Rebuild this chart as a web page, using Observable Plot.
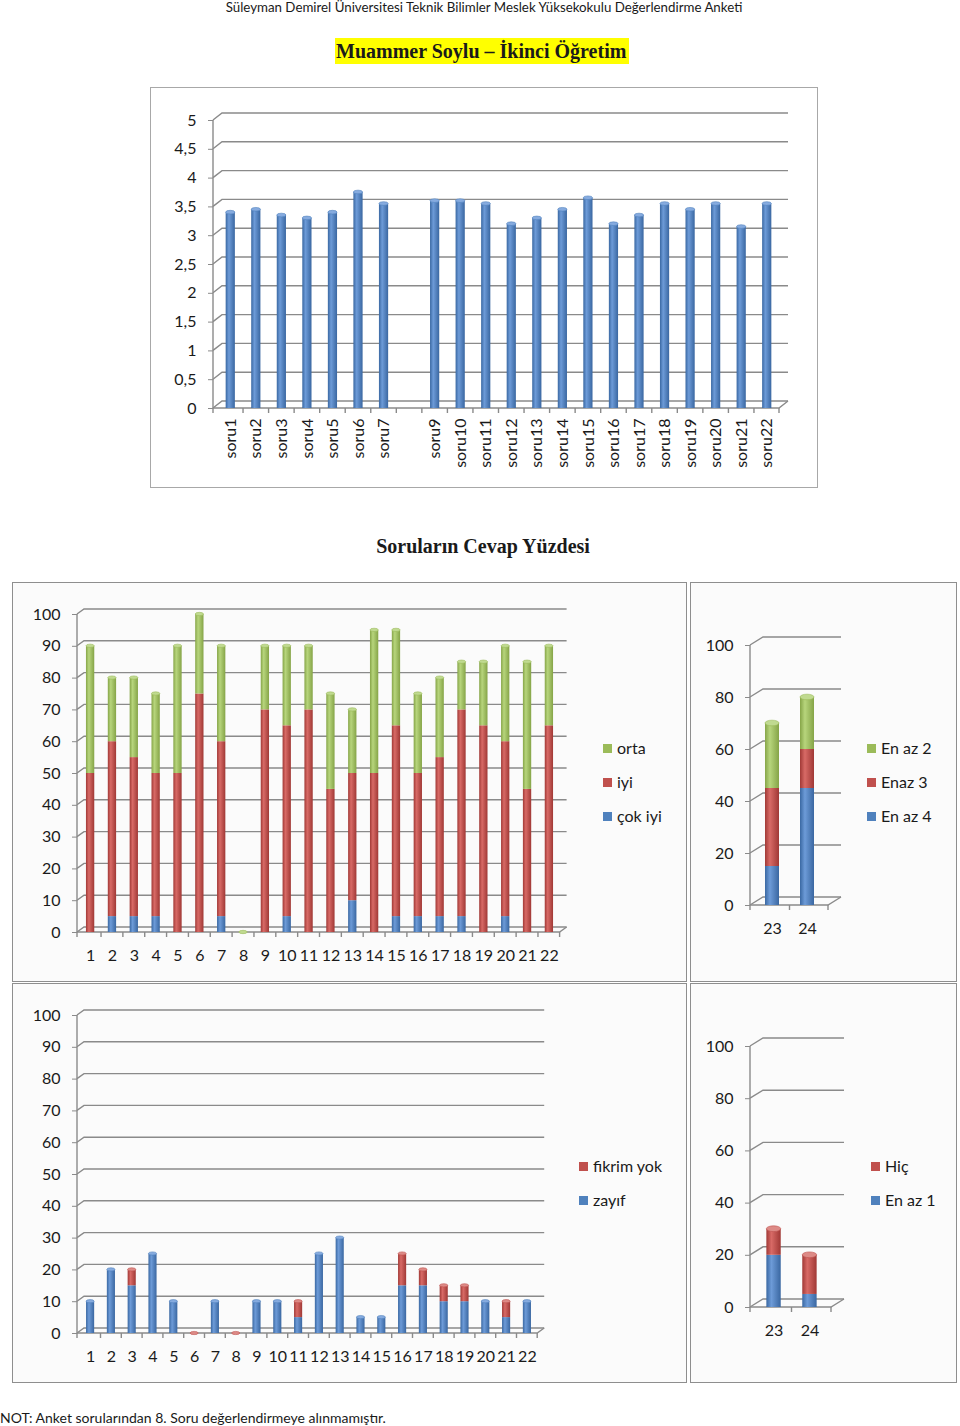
<!DOCTYPE html>
<html>
<head>
<meta charset="utf-8">
<script src="https://cdn.jsdelivr.net/npm/d3@7"></script>
<script src="https://cdn.jsdelivr.net/npm/@observablehq/plot@0.6"></script>
<style>
  html, body { margin: 0; padding: 0; }
  body { width: 960px; height: 1426px; position: relative; background: #fff; overflow: hidden;
         font-family: Lato, "Open Sans", sans-serif; color: #1a1a1a; }
  .abs { position: absolute; }
  .box { position: absolute; box-sizing: border-box; border: 1.5px solid #8e8e8e; background: #fbfbfb; }
  .hdr { top: 0; left: 0; width: 968px; text-align: center; font-size: 13.3px; line-height: 15px; }
  .ttl { font-family: "Liberation Serif", "Times New Roman", serif; font-weight: bold; font-size: 20px; }
  .leg { position: absolute; font-size: 16px; line-height: 18px; white-space: nowrap; }
  .leg span.sw { display: inline-block; width: 9px; height: 9px; margin-right: 5px; vertical-align: 1px; }
  .foot { left: 0; top: 1409px; font-size: 14px; }
</style>
</head>
<body>
<svg width="0" height="0" style="position:absolute">
  <defs>
    <linearGradient id="gBlue" x1="0" x2="1" y1="0" y2="0">
      <stop offset="0" stop-color="#3a68a2"/><stop offset="0.35" stop-color="#6d9bd8"/><stop offset="1" stop-color="#3a67a1"/>
    </linearGradient>
    <linearGradient id="gRed" x1="0" x2="1" y1="0" y2="0">
      <stop offset="0" stop-color="#a13936"/><stop offset="0.35" stop-color="#d86a66"/><stop offset="1" stop-color="#a03835"/>
    </linearGradient>
    <linearGradient id="gGreen" x1="0" x2="1" y1="0" y2="0">
      <stop offset="0" stop-color="#86a548"/><stop offset="0.35" stop-color="#b7d57c"/><stop offset="1" stop-color="#85a447"/>
    </linearGradient>
  </defs>
</svg>

<div class="abs hdr">Süleyman Demirel Üniversitesi Teknik Bilimler Meslek Yüksekokulu Değerlendirme Anketi</div>
<div class="abs ttl" style="left:335px; top:38px; background:#ffff00; padding:0 3px 0 1px; line-height:26px;">Muammer Soylu – İkinci Öğretim</div>
<div class="box" style="left:150px; top:87px; width:668px; height:401px; background:#fff; border-color:#a8a8a8;"></div>
<div class="abs ttl" style="left:0; width:966px; text-align:center; top:533px; line-height:26px;">Soruların Cevap Yüzdesi</div>

<div class="box" style="left:12px; top:582px; width:675px; height:400px;"></div>
<div class="box" style="left:690px; top:582px; width:267px; height:400px;"></div>
<div class="box" style="left:12px; top:983px; width:675px; height:400px;"></div>
<div class="box" style="left:690px; top:983px; width:267px; height:400px;"></div>

<div class="abs foot">NOT: Anket sorularından 8. Soru değerlendirmeye alınmamıştır.</div>

<script>
// ---------------- DATA ----------------
const meanQuestions = ["soru1","soru2","soru3","soru4","soru5","soru6","soru7","soru8","soru9","soru10","soru11",
  "soru12","soru13","soru14","soru15","soru16","soru17","soru18","soru19","soru20","soru21","soru22"];
const excludedQuestion = "soru8";
const meanScores = [3.4,3.45,3.35,3.3,3.4,3.75,3.55,null,3.6,3.6,3.55,3.2,3.3,3.45,3.65,3.2,3.35,3.55,3.45,3.55,3.15,3.55];
const meanTicks = [0,0.5,1,1.5,2,2.5,3,3.5,4,4.5,5];

const questions = ["1","2","3","4","5","6","7","8","9","10","11","12","13","14","15","16","17","18","19","20","21","22"];
const cokIyi     = [0,5,5,5,0,0,5,0,0,5,0,0,10,0,5,5,5,5,0,5,0,0];
const iyi        = [50,55,50,45,50,75,55,0,70,60,70,45,40,50,60,45,50,65,65,55,45,65];
const orta       = [40,20,25,25,40,25,30,0,20,25,20,30,20,45,30,25,25,15,20,30,40,25];
const zayif      = [10,20,15,25,10,0,10,0,10,10,5,25,30,5,5,15,15,10,10,10,5,10];
const fikrimYok  = [0,0,5,0,0,0,0,0,0,0,5,0,0,0,0,10,5,5,5,0,5,0];

const extraQuestions = ["23","24"];
const enAz4 = [15,45];
const enaz3 = [30,15];
const enAz2 = [25,20];
const enAz1 = [20,5];
const hic   = [10,15];

const pctTicks10 = [0,10,20,30,40,50,60,70,80,90,100];
const pctTicks20 = [0,20,40,60,80,100];

// ---------------- STYLE ----------------
const FONT = "Lato, 'Open Sans', sans-serif";
const FILL = {blue: "url(#gBlue)", red: "url(#gRed)", green: "url(#gGreen)"};
const CAP  = {blue: "#86abdf", red: "#dd8a86", green: "#c0da90"};
const SOLID = {blue: "#4f81bd", red: "#c0504d", green: "#9bbb59"};

// back wall / floor / axis lines of a pseudo-3D chart
function wall3d(ticks, dx, dy) {
  return (index, scales, values, dims) => {
    const x = scales.x, y = scales.y;
    const g = d3.create("svg:g").attr("fill", "none").attr("stroke", "#8a8a8a").attr("stroke-width", 1.4);
    const x0 = dims.marginLeft;
    const xEnd = x.range()[1];
    const y0 = y(0);
    const yTop = y(ticks[ticks.length - 1]);
    for (const t of ticks) {
      const yy = y(t);
      g.append("path").attr("d", `M${x0},${yy}L${x0 + dx},${yy + dy}L${xEnd + dx},${yy + dy}`);
    }
    g.append("path").attr("d", `M${x0},${y0}L${xEnd},${y0}L${xEnd + dx},${y0 + dy}`);
    g.append("line").attr("x1", x0).attr("x2", x0).attr("y1", y0).attr("y2", yTop);
    const dom = x.domain();
    const step = x.step(), bw = x.bandwidth();
    const bounds = [x0, ...dom.slice(1).map(c => x(c) - (step - bw) / 2), xEnd];
    for (const b of bounds) g.append("line").attr("x1", b).attr("x2", b).attr("y1", y0).attr("y2", y0 + 5);
    return g.node();
  };
}

// elliptical caps on the top of each (stacked) column
function caps(cats, stacks, colorNames) {
  return (index, scales) => {
    const x = scales.x, y = scales.y, bw = x.bandwidth();
    const g = d3.create("svg:g");
    cats.forEach((c, i) => {
      const vals = stacks.map(s => s[i]);
      if (vals.some(v => v == null)) return;
      const total = d3.sum(vals);
      let top = colorNames.length - 1;
      for (let j = vals.length - 1; j >= 0; j--) { if (vals[j] > 0) { top = j; break; } }
      g.append("ellipse")
        .attr("cx", x(c) + bw / 2).attr("cy", y(total))
        .attr("rx", bw / 2).attr("ry", Math.max(1.5, bw * 0.2))
        .attr("fill", CAP[colorNames[top]])
        .attr("stroke", SOLID[colorNames[top]]).attr("stroke-width", 0.6);
    });
    return g.node();
  };
}

function stackedChart({cats, stacks, keys, colorNames, ticks, left, top, width, height, ml, mt, mb, xRange,
                       paddingInner, paddingOuter, dx, dy, tickFmt, rotate, xPad}) {
  const rows = [];
  cats.forEach((c, i) => stacks.forEach((s, j) => { if (s[i] != null) rows.push({cat: c, key: keys[j], value: s[i]}); }));
  const yMax = ticks[ticks.length - 1];
  const plot = Plot.plot({
    width, height,
    marginLeft: ml, marginTop: mt, marginBottom: mb, marginRight: width - xRange[1],
    style: {fontFamily: FONT, fontSize: "16px", color: "#1a1a1a", background: "transparent", overflow: "visible"},
    x: {type: "band", domain: cats, range: xRange, paddingInner, paddingOuter, round: false, axis: null},
    y: {domain: [0, yMax], axis: null},
    color: {domain: keys, range: colorNames.map(n => FILL[n])},
    marks: [
      wall3d(ticks, dx, dy),
      Plot.axisY({ticks, tickSize: 5, tickPadding: 12, tickFormat: tickFmt || (d => String(d)), stroke: "#8a8a8a", fill: "#1a1a1a", fontSize: 16, label: null}),
      rotate
        ? Plot.axisX({tickSize: 0, tickPadding: xPad, tickRotate: -90, fontSize: 16, fill: "#1a1a1a", label: null,
                      tickFormat: d => d === excludedQuestion ? "" : d})
        : Plot.axisX({tickSize: 0, tickPadding: xPad, fontSize: 16, fill: "#1a1a1a", label: null}),
      Plot.barY(rows, Plot.stackY({x: "cat", y: "value", z: "key", fill: "key", order: keys})),
      caps(cats, stacks, colorNames)
    ]
  });
  plot.style.position = "absolute";
  plot.style.left = left + "px";
  plot.style.top = top + "px";
  document.body.appendChild(plot);
}

function legend(items, left, tops) {
  items.forEach(([label, color], i) => {
    const d = document.createElement("div");
    d.className = "leg";
    d.style.left = left + "px";
    d.style.top = (tops[i] - 9) + "px";
    d.innerHTML = `<span class="sw" style="background:${SOLID[color]}"></span>${label}`;
    document.body.appendChild(d);
  });
}

// Chart 1: mean scores
stackedChart({
  cats: meanQuestions, stacks: [meanScores], keys: ["ortalama"], colorNames: ["blue"], ticks: meanTicks,
  left: 150, top: 87, width: 668, height: 401, ml: 63, mt: 33, mb: 80, xRange: [68, 629],
  paddingInner: 0.64, paddingOuter: 0.3, dx: 9, dy: -7, tickFmt: d => String(d).replace(".", ","),
  rotate: true, xPad: 10
});

// Top-left: çok iyi / iyi / orta
stackedChart({
  cats: questions, stacks: [cokIyi, iyi, orta], keys: ["çok iyi", "iyi", "orta"], colorNames: ["blue", "red", "green"],
  ticks: pctTicks10, left: 12, top: 582, width: 675, height: 400, ml: 65, mt: 32, mb: 50, xRange: [67.4, 547.6],
  paddingInner: 0.62, paddingOuter: 0.3, dx: 7, dy: -5, xPad: 17
});
legend([["orta", "green"], ["iyi", "red"], ["çok iyi", "blue"]], 603, [748, 782, 816]);

// Top-right: En az 4 / Enaz 3 / En az 2
stackedChart({
  cats: extraQuestions, stacks: [enAz4, enaz3, enAz2], keys: ["En az 4", "Enaz 3", "En az 2"], colorNames: ["blue", "red", "green"],
  ticks: pctTicks20, left: 690, top: 582, width: 267, height: 400, ml: 60, mt: 63, mb: 77, xRange: [61, 138],
  paddingInner: 0.6, paddingOuter: 0.4, dx: 13, dy: -8, xPad: 17
});
legend([["En az 2", "green"], ["Enaz 3", "red"], ["En az 4", "blue"]], 867, [748, 782, 816]);

// Bottom-left: zayıf / fikrim yok
stackedChart({
  cats: questions, stacks: [zayif, fikrimYok], keys: ["zayıf", "fikrim yok"], colorNames: ["blue", "red"],
  ticks: pctTicks10, left: 12, top: 983, width: 675, height: 400, ml: 65, mt: 32, mb: 50, xRange: [67.8, 525.2],
  paddingInner: 0.61, paddingOuter: 0.3, dx: 7, dy: -5, xPad: 17
});
legend([["fikrim yok", "red"], ["zayıf", "blue"]], 579, [1166, 1200]);

// Bottom-right: En az 1 / Hiç
stackedChart({
  cats: extraQuestions, stacks: [enAz1, hic], keys: ["En az 1", "Hiç"], colorNames: ["blue", "red"],
  ticks: pctTicks20, left: 690, top: 983, width: 267, height: 400, ml: 60, mt: 63, mb: 76, xRange: [62, 141],
  paddingInner: 0.6, paddingOuter: 0.4, dx: 13, dy: -8, xPad: 17
});
legend([["Hiç", "red"], ["En az 1", "blue"]], 871, [1166, 1200]);
</script>
</body>
</html>
